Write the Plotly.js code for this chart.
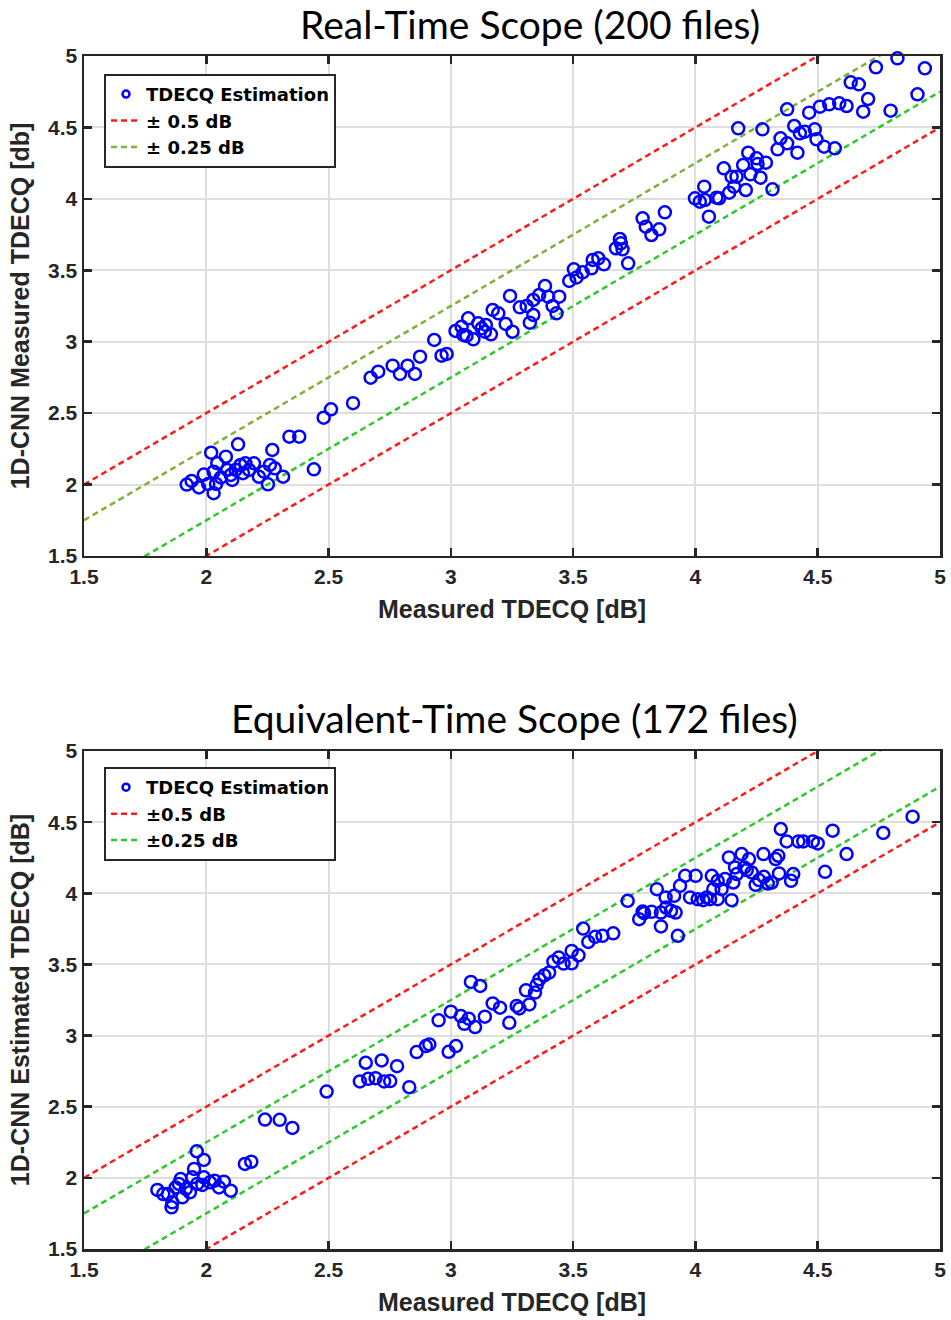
<!DOCTYPE html>
<html>
<head>
<meta charset="utf-8">
<script src="https://cdn.plot.ly/plotly-3.0.1.min.js"></script>
<style>html,body{margin:0;padding:0;background:#fff;}#chart{width:951px;height:1320px;}</style>
</head>
<body>
<div id="chart"></div>
<script>
// Real-Time Scope (200 files): measured vs 1D-CNN estimated TDECQ [dB]
const rtMeasured = [
1.92,1.94,1.97,2.008,2.03,2.04,1.99,2.02,2.045,2.08,2.13,2.03,2.086,2.106,2.10,2.12,2.14,2.16,2.175,2.195,
2.215,2.236,2.26,2.27,2.28,2.252,2.314,2.34,2.38,2.44,2.48,2.51,2.60,2.06,2.15,
2.672,2.703,2.762,2.792,2.823,2.853,2.874,2.932,2.962,2.983,3.019,3.044,3.051,3.071,3.064,3.092,3.112,3.126,3.143,3.139,
3.164,3.171,3.194,3.224,3.242,3.252,3.282,3.31,3.337,3.323,3.337,3.361,3.385,3.398,3.416,3.432,3.443,3.484,3.503,3.514,
3.539,3.575,3.58,3.603,3.626,3.675,3.695,3.702,3.725,
3.691,3.784,3.797,3.82,3.852,3.875,3.998,4.018,4.036,4.038,4.055,4.086,4.097,4.116,4.138,4.148,4.158,4.168,4.175,4.195,
4.206,4.216,4.225,4.25,4.254,4.266,4.274,4.288,4.315,4.336,4.348,4.375,4.375,4.404,4.417,4.427,4.447,4.465,4.488,4.495,
4.509,4.526,4.547,4.57,4.588,4.618,4.635,4.668,4.686,4.706,4.738,4.758,4.826,4.908,4.798,4.938
];
const rtEstimated = [
2.00,2.025,1.98,2.004,1.94,2.004,2.07,2.223,2.149,2.195,2.282,2.09,2.102,2.032,2.067,2.102,2.137,2.149,2.102,2.149,
2.055,2.09,2.137,2.242,2.114,2.002,2.055,2.335,2.335,2.107,2.468,2.527,2.57,2.05,2.08,
2.748,2.79,2.832,2.774,2.832,2.774,2.895,3.012,2.902,2.914,3.075,3.105,3.047,3.164,3.04,3.017,3.129,3.094,3.117,3.07,
3.052,3.222,3.199,3.124,3.32,3.07,3.241,3.25,3.187,3.133,3.292,3.327,3.39,3.315,3.25,3.199,3.315,3.425,3.507,3.45,
3.486,3.514,3.572,3.584,3.542,3.654,3.689,3.647,3.549,
3.719,3.864,3.805,3.747,3.787,3.906,4.004,3.98,4.085,3.992,3.875,4.008,4.004,4.214,4.043,4.155,4.085,4.155,4.494,4.237,
4.062,4.323,4.172,4.284,4.244,4.148,4.487,4.253,4.067,4.347,4.424,4.389,4.627,4.51,4.323,4.459,4.47,4.603,4.487,4.417,
4.645,4.365,4.662,4.354,4.669,4.65,4.816,4.802,4.61,4.699,4.921,5.007,4.984,4.732,4.617,4.914
];

// Equivalent-Time Scope (172 files)
const etMeasured = [
1.80,1.824,1.843,1.858,1.861,1.875,1.888,1.895,1.902,1.916,1.933,1.943,1.95,1.961,1.963,1.984,1.99,1.99,2.015,2.034,
2.052,2.072,2.10,2.158,2.184,2.24,2.30,2.352,2.492,2.628,2.652,2.662,2.692,2.717,2.727,
2.752,2.78,2.83,2.86,2.898,2.912,2.991,3.021,2.95,3.0,3.041,3.055,3.073,3.099,3.082,3.12,3.139,3.171,3.201,3.239,
3.269,3.28,3.321,3.307,3.344,3.351,3.362,3.382,3.402,3.419,3.441,3.461,3.494,3.494,3.522,3.541,3.562,3.59,3.62,3.664,
3.723,3.77,3.784,
3.79,3.821,3.842,3.859,3.859,3.878,3.88,3.90,3.913,3.919,3.928,3.937,3.958,3.978,4.001,4.009,4.032,4.046,4.067,4.06,
4.073,4.091,4.091,4.107,4.121,4.137,4.148,4.155,4.162,4.169,4.189,4.20,4.219,4.21,4.23,4.246,4.26,4.28,4.278,4.296,
4.312,4.328,4.339,4.342,4.349,4.373,4.391,4.40,4.421,4.441,4.48,4.50,4.53,4.561,4.618,4.768,4.888
];
const etEstimated = [
1.915,1.886,1.886,1.793,1.828,1.933,1.957,1.992,1.863,1.922,1.898,2.004,2.063,2.187,1.957,1.95,2.126,2.004,1.969,1.98,
1.933,1.973,1.91,2.098,2.114,2.41,2.408,2.351,2.607,2.678,2.809,2.696,2.701,2.825,2.678,
2.68,2.785,2.637,2.884,2.926,2.938,2.886,2.926,3.107,3.168,3.137,3.083,3.119,3.06,3.377,3.349,3.133,3.226,3.196,3.09,
3.208,3.191,3.219,3.318,3.302,3.356,3.396,3.424,3.443,3.52,3.548,3.506,3.508,3.595,3.564,3.752,3.658,3.694,3.701,3.719,
3.947,3.818,3.872,
3.86,3.87,4.029,3.767,3.865,3.971,3.90,3.877,3.982,3.865,3.701,4.053,4.123,3.971,4.123,3.959,3.952,3.971,4.123,3.959,
4.029,3.959,4.088,4.029,4.10,4.252,3.952,4.076,4.182,4.135,4.276,4.182,4.241,4.163,4.147,4.06,4.093,4.116,4.276,4.069,
4.076,4.241,4.264,4.14,4.452,4.365,4.088,4.135,4.365,4.365,4.365,4.351,4.151,4.44,4.276,4.424,4.539
];

// Axis settings and bound offsets
const axisRange = [1.5, 5];
const tickValues = [1.5, 2, 2.5, 3, 3.5, 4, 4.5, 5];
const tickLabels = ['1.5', '2', '2.5', '3', '3.5', '4', '4.5', '5'];
const boundOffsets = [0.5, 0.25];

const topTitle = 'Real-Time Scope (200 files)';
const bottomTitle = 'Equivalent-Time Scope (172 files)';
const xTitle = 'Measured TDECQ [dB]';
const topYTitle = '1D-CNN Measured TDECQ [db]';
const bottomYTitle = '1D-CNN Estimated TDECQ [dB]';
const topLegendNames = ['TDECQ Estimation', '\u00b1 0.5 dB', '\u00b1 0.25 dB'];
const bottomLegendNames = ['TDECQ Estimation', '\u00b10.5 dB', '\u00b10.25 dB'];

const RED = '#ff1a1a';
const OLIVE = '#80b03a';
const GREEN = '#2ec82e';
const BLUE = '#0000ff';
const DARK = '#262626';

function boundTrace(off, sign, color, name, xa, ya, legend, show) {
  const xs = axisRange.slice();
  const ys = xs.map(v => v + sign * off);
  return {
    x: xs, y: ys, type: 'scatter', mode: 'lines', name: name,
    xaxis: xa, yaxis: ya, legend: legend, legendgroup: legend + name,
    showlegend: show, legendrank: off === 0.5 ? 2 : 3,
    line: {color: color, width: 2.5, dash: '6px,4px'}, hoverinfo: 'skip'
  };
}

function scatterTrace(xs, ys, xa, ya, legend) {
  return {
    x: xs, y: ys, type: 'scatter', mode: 'markers', name: 'pts',
    xaxis: xa, yaxis: ya, legend: legend, showlegend: false,
    marker: {symbol: 'circle-open', size: 12, color: BLUE, line: {width: 2.5, color: BLUE}},
    cliponaxis: false
  };
}

function legendMarker(name, xa, ya, legend) {
  return {
    x: [null], y: [null], type: 'scatter', mode: 'markers', name: name,
    xaxis: xa, yaxis: ya, legend: legend, showlegend: true, legendrank: 1,
    marker: {symbol: 'circle-open', size: 7, color: BLUE, line: {width: 2.5, color: BLUE}}
  };
}

const traces = [];
// top subplot
traces.push(boundTrace(boundOffsets[0], 1, RED, topLegendNames[1], 'x', 'y', 'legend', true));
traces.push(boundTrace(boundOffsets[0], -1, RED, topLegendNames[1], 'x', 'y', 'legend', false));
traces.push(boundTrace(boundOffsets[1], 1, OLIVE, topLegendNames[2], 'x', 'y', 'legend', true));
traces.push(boundTrace(boundOffsets[1], -1, GREEN, topLegendNames[2], 'x', 'y', 'legend', false));
traces.push(scatterTrace(rtMeasured, rtEstimated, 'x', 'y', 'legend'));
traces.push(legendMarker(topLegendNames[0], 'x', 'y', 'legend'));
// bottom subplot
traces.push(boundTrace(boundOffsets[0], 1, RED, bottomLegendNames[1], 'x2', 'y2', 'legend2', true));
traces.push(boundTrace(boundOffsets[0], -1, RED, bottomLegendNames[1], 'x2', 'y2', 'legend2', false));
traces.push(boundTrace(boundOffsets[1], 1, GREEN, bottomLegendNames[2], 'x2', 'y2', 'legend2', true));
traces.push(boundTrace(boundOffsets[1], -1, GREEN, bottomLegendNames[2], 'x2', 'y2', 'legend2', false));
traces.push(scatterTrace(etMeasured, etEstimated, 'x2', 'y2', 'legend2'));
traces.push(legendMarker(bottomLegendNames[0], 'x2', 'y2', 'legend2'));

const tickFont = {family: 'Liberation Sans, Arial, sans-serif', size: 21, color: DARK, weight: 700};
const labFont = {family: 'Liberation Sans, Arial, sans-serif', size: 25, color: DARK, weight: 700};

function axis(extra) {
  return Object.assign({
    range: axisRange, tickvals: tickValues, ticktext: tickLabels,
    showgrid: true, gridcolor: '#dedede', gridwidth: 2,
    zeroline: false, showline: true, linecolor: DARK, linewidth: 2.5,
    mirror: 'ticks', ticks: 'inside', ticklen: 8, tickwidth: 2.5, tickcolor: DARK,
    tickfont: tickFont, fixedrange: true
  }, extra);
}

const legendStyle = {
  xanchor: 'left', yanchor: 'top', bgcolor: '#ffffff', bordercolor: DARK, borderwidth: 2,
  font: {family: 'DejaVu Sans, Liberation Sans, sans-serif', size: 18, color: '#000000', weight: 700},
  tracegroupgap: 0, itemwidth: 30, traceorder: 'normal'
};

const layout = {
  width: 951, height: 1320,
  margin: {l: 84, r: 11, t: 56, b: 71},
  paper_bgcolor: '#ffffff', plot_bgcolor: '#ffffff',
  showlegend: true,
  xaxis: axis({domain: [0, 1], anchor: 'y', title: {text: xTitle, font: labFont, standoff: 14}}),
  yaxis: axis({domain: [0.5809, 1], anchor: 'x', title: {text: topYTitle, font: labFont, standoff: 12}}),
  xaxis2: axis({domain: [0, 1], anchor: 'y2', title: {text: xTitle, font: labFont, standoff: 14}}),
  yaxis2: axis({domain: [0, 0.4174], anchor: 'x2', title: {text: bottomYTitle, font: labFont, standoff: 12}}),
  legend: Object.assign({x: 0.0234, y: 0.985}, legendStyle),
  legend2: Object.assign({x: 0.0234, y: 0.404}, legendStyle),
  annotations: [
    {text: topTitle, xref: 'paper', yref: 'paper', x: 0.521, y: 1.0268, xanchor: 'center', yanchor: 'middle',
     showarrow: false, font: {family: 'Lato, Noto Sans, sans-serif', size: 39, color: '#000000'}},
    {text: bottomTitle, xref: 'paper', yref: 'paper', x: 0.503, y: 0.4451, xanchor: 'center', yanchor: 'middle',
     showarrow: false, font: {family: 'Lato, Noto Sans, sans-serif', size: 39, color: '#000000'}}
  ]
};

Plotly.newPlot('chart', traces, layout, {staticPlot: true, displayModeBar: false});
</script>
</body>
</html>
